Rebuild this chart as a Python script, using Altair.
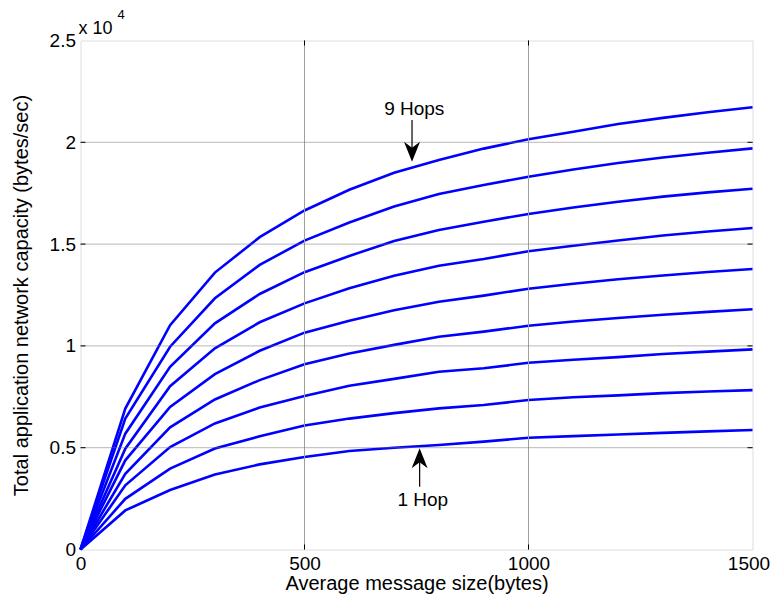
import altair as alt
import pandas as pd

# ---- data ----
sizes = [0, 100, 200, 300, 400, 500, 600, 700, 800, 900, 1000, 1100, 1200, 1300, 1400, 1500]
hop1 = [0, 1920, 2920, 3680, 4180, 4540, 4840, 5000, 5130, 5300, 5490, 5570, 5650, 5730, 5800, 5870]
hop2 = [0, 2490, 3970, 4960, 5560, 6090, 6430, 6700, 6930, 7100, 7340, 7480, 7570, 7680, 7760, 7830]
hop3 = [0, 3150, 5030, 6190, 6970, 7540, 8040, 8380, 8730, 8900, 9170, 9320, 9450, 9600, 9720, 9830]
hop4 = [0, 3720, 6000, 7370, 8320, 9100, 9630, 10050, 10450, 10700, 10990, 11200, 11370, 11530, 11670, 11800]
hop5 = [0, 4380, 7000, 8610, 9760, 10650, 11240, 11750, 12170, 12470, 12810, 13050, 13270, 13460, 13630, 13780]
hop6 = [0, 4950, 8020, 9880, 11160, 12090, 12830, 13450, 13940, 14270, 14650, 14920, 15180, 15420, 15620, 15790]
hop7 = [0, 5690, 8970, 11110, 12550, 13620, 14420, 15150, 15690, 16100, 16480, 16800, 17080, 17330, 17540, 17720]
hop8 = [0, 6430, 9960, 12340, 13980, 15170, 16060, 16850, 17460, 17900, 18310, 18660, 18980, 19250, 19490, 19700]
hop9 = [0, 6920, 11020, 13600, 15340, 16650, 17670, 18500, 19130, 19690, 20150, 20520, 20900, 21200, 21480, 21720]
series = [hop1, hop2, hop3, hop4, hop5, hop6, hop7, hop8, hop9]

x_ticks = [0, 500, 1000, 1500]
y_ticks = [0, 5000, 10000, 15000, 20000, 25000]
x_grid = [500, 1000]
y_grid = [5000, 10000, 15000, 20000]

ann_text = ["9 Hops", "1 Hop"]
ann_x = [745, 764]
ann_y = [21660, 2430]
arrow_x = [740, 757]
arrow_from = [21100, 3080]
arrow_to = [19540, 4480]

x_title = "Average message size(bytes)"
y_title = "Total application network capacity (bytes/sec)"

# ---- tables ----
rows = []
for i, s in enumerate(series):
    for sz, v in zip(sizes, s):
        rows.append({"size": sz, "cap": v, "hops": i + 1})
df = pd.DataFrame(rows)

W, H = 672, 509
FONT = "Liberation Sans"
FS = 19
TFS = 20

xs = alt.Scale(domain=[0, 1500], nice=False, zero=False)
ys = alt.Scale(domain=[0, 25000], nice=False)

x_axis = alt.Axis(values=x_ticks, title=x_title, grid=False, ticks=False, domain=False,
                  labelFontSize=FS, labelFont=FONT, labelColor="black", labelPadding=5,
                  labelFlush=False, labelOffset=alt.ExprRef(expr="datum.value == 1500 ? -4 : 0"),
                  titleFontSize=TFS, titleFont=FONT, titleColor="black",
                  titleFontWeight="normal", titlePadding=0, format="d")
y_axis = alt.Axis(values=y_ticks, title=y_title, grid=False, ticks=False, domain=False,
                  labelExpr="format(datum.value / 10000, '~g')",
                  labelFontSize=FS, labelFont=FONT, labelColor="black", labelPadding=5,
                  titleFontSize=TFS, titleFont=FONT, titleColor="black",
                  titleFontWeight="normal", titlePadding=18)

xgrid_df = pd.DataFrame({"size": x_grid})
ygrid_df = pd.DataFrame({"cap": y_grid})

xgrid = alt.Chart(xgrid_df).mark_rule(color="#a0a0a0", strokeWidth=1).encode(
    x=alt.X("size:Q", scale=xs))
ygrid = alt.Chart(ygrid_df).mark_rule(color="#707070", strokeWidth=1, strokeDash=[1, 1]).encode(
    y=alt.Y("cap:Q", scale=ys))

lines = alt.Chart(df).mark_line(color="#0000ff", strokeWidth=2.6).encode(
    x=alt.X("size:Q", scale=xs, axis=x_axis),
    y=alt.Y("cap:Q", scale=ys, axis=y_axis),
    detail="hops:N",
)

tick_bot = alt.Chart(xgrid_df).mark_rule(color="black", strokeWidth=1).encode(
    x="size:Q", y=alt.value(H), y2=alt.value(H - 5))
tick_top = alt.Chart(xgrid_df).mark_rule(color="black", strokeWidth=1).encode(
    x="size:Q", y=alt.value(0), y2=alt.value(5))
tick_left = alt.Chart(ygrid_df).mark_rule(color="black", strokeWidth=1).encode(
    y="cap:Q", x=alt.value(0), x2=alt.value(5))
tick_right = alt.Chart(ygrid_df).mark_rule(color="black", strokeWidth=1).encode(
    y="cap:Q", x=alt.value(W), x2=alt.value(W - 5))

ann_df = pd.DataFrame({"label": ann_text, "size": ann_x, "cap": ann_y})
ann = alt.Chart(ann_df).mark_text(font=FONT, fontSize=FS, color="black",
                                  align="center", baseline="middle").encode(
    x="size:Q", y="cap:Q", text="label:N")

arr_df = pd.DataFrame({"size": arrow_x, "cap": arrow_from, "cap2": arrow_to})
shafts = alt.Chart(arr_df).mark_rule(color="black", strokeWidth=1.2).encode(
    x="size:Q", y="cap:Q", y2="cap2:Q")

head_down = alt.Chart(arr_df.iloc[[0]]).mark_point(
    shape="M0,1 L-0.8,-1 L0,-0.4 L0.8,-1 Z", filled=True, size=400, color="black", opacity=1
).encode(x="size:Q", y="cap2:Q")
head_up = alt.Chart(arr_df.iloc[[1]]).mark_point(
    shape="M0,-1 L0.8,1 L0,0.4 L-0.8,1 Z", filled=True, size=400, color="black", opacity=1
).encode(x="size:Q", y="cap2:Q")

mult_df = pd.DataFrame({"t": ["x 10"]})
exp_df = pd.DataFrame({"t": ["4"]})
mult = alt.Chart(mult_df).mark_text(font=FONT, fontSize=18, color="black",
                                    align="left", baseline="alphabetic").encode(
    text="t:N", x=alt.value(-2), y=alt.value(-7))
expo = alt.Chart(exp_df).mark_text(font=FONT, fontSize=13, color="black",
                                   align="left", baseline="alphabetic").encode(
    text="t:N", x=alt.value(37), y=alt.value(-22))

chart = alt.layer(
    lines, xgrid, ygrid, tick_bot, tick_top, tick_left, tick_right,
    shafts, head_down, head_up, ann, mult, expo
).properties(
    width=W, height=H,
    autosize=alt.AutoSizeParams(type="none"),
    padding={"left": 72.5, "top": 32.5, "right": 17.5, "bottom": 46},
).configure_view(
    stroke="black", strokeWidth=1
).configure(background="white")

chart.save("out.html", embed_options={"renderer": "svg", "actions": False})
